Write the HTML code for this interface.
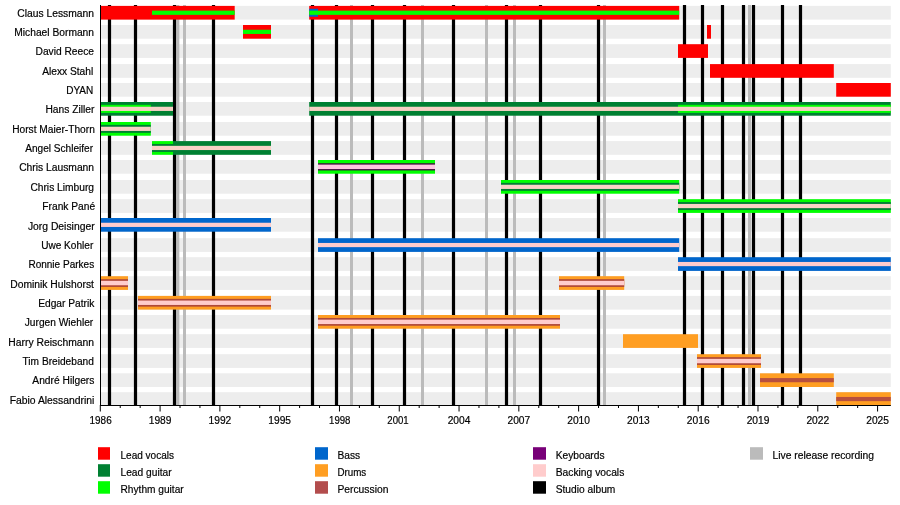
<!DOCTYPE html>
<html lang="en"><head><meta charset="utf-8"><title>Bonfire band members timeline</title>
<style>
html,body{margin:0;padding:0;background:#fff;}
body{width:900px;height:505px;overflow:hidden;}
svg{display:block;position:absolute;left:0;top:0;}
text{font-family:"Liberation Sans",sans-serif;font-size:11px;fill:#000;stroke:#000;stroke-width:0.2px;}
</style></head><body>
<svg width="900" height="505" viewBox="0 0 900 505" role="img" aria-label="Band members timeline">
<defs><filter id="soft" x="0" y="0" width="900" height="505" filterUnits="userSpaceOnUse"><feGaussianBlur stdDeviation="0.4"/></filter></defs>
<rect x="0" y="0" width="900" height="505" fill="#fff"/>
<g filter="url(#soft)">
<g fill="#ededed">
<rect x="101" y="5.9" width="789.8" height="13.7"/>
<rect x="101" y="25" width="789.8" height="13.7"/>
<rect x="101" y="44.2" width="789.8" height="13.7"/>
<rect x="101" y="64.1" width="789.8" height="13.7"/>
<rect x="101" y="83" width="789.8" height="13.7"/>
<rect x="101" y="102" width="789.8" height="13.7"/>
<rect x="101" y="122" width="789.8" height="13.7"/>
<rect x="101" y="141.1" width="789.8" height="13.7"/>
<rect x="101" y="160" width="789.8" height="13.7"/>
<rect x="101" y="180" width="789.8" height="13.7"/>
<rect x="101" y="199.2" width="789.8" height="13.7"/>
<rect x="101" y="218" width="789.8" height="13.7"/>
<rect x="101" y="238.2" width="789.8" height="13.7"/>
<rect x="101" y="257.2" width="789.8" height="13.7"/>
<rect x="101" y="276.2" width="789.8" height="13.7"/>
<rect x="101" y="295.9" width="789.8" height="13.7"/>
<rect x="101" y="315" width="789.8" height="13.7"/>
<rect x="101" y="334.2" width="789.8" height="13.7"/>
<rect x="101" y="354.2" width="789.8" height="13.7"/>
<rect x="101" y="373.3" width="789.8" height="13.7"/>
<rect x="101" y="392.2" width="789.8" height="13.7"/>
</g>
<g fill="#bbbbbb">
<rect x="176.3" y="5" width="3" height="400"/>
<rect x="183" y="5" width="3" height="400"/>
<rect x="350" y="5" width="3" height="400"/>
<rect x="421" y="5" width="3" height="400"/>
<rect x="485" y="5" width="3" height="400"/>
<rect x="513" y="5" width="3" height="400"/>
<rect x="603" y="5" width="3" height="400"/>
<rect x="748" y="5" width="3" height="400"/>
</g>
<g fill="#000">
<rect x="107.9" y="5" width="3.2" height="400"/>
<rect x="133.9" y="5" width="3.2" height="400"/>
<rect x="172.9" y="5" width="3.2" height="400"/>
<rect x="211.9" y="5" width="3.2" height="400"/>
<rect x="310.9" y="5" width="3.2" height="400"/>
<rect x="334.9" y="5" width="3.2" height="400"/>
<rect x="370.9" y="5" width="3.2" height="400"/>
<rect x="402.9" y="5" width="3.2" height="400"/>
<rect x="451.9" y="5" width="3.2" height="400"/>
<rect x="504.9" y="5" width="3.2" height="400"/>
<rect x="538.9" y="5" width="3.2" height="400"/>
<rect x="596.9" y="5" width="3.2" height="400"/>
<rect x="682.9" y="5" width="3.2" height="400"/>
<rect x="700.9" y="5" width="3.2" height="400"/>
<rect x="720.9" y="5" width="3.2" height="400"/>
<rect x="741.9" y="5" width="3.2" height="400"/>
<rect x="751.9" y="5" width="3.2" height="400"/>
<rect x="780.9" y="5" width="3.2" height="400"/>
<rect x="798.9" y="5" width="3.2" height="400"/>
</g>
<g>
<rect x="100.8" y="5.9" width="133.9" height="13.7" fill="#ff0000"/>
<rect x="152" y="10.65" width="82.7" height="4.2" fill="#00ff00"/>
<rect x="309.2" y="5.9" width="370" height="13.7" fill="#ff0000"/>
<rect x="309.2" y="8.75" width="8.8" height="8" fill="#0066cc"/>
<rect x="309.2" y="10.65" width="370" height="4.2" fill="#00ff00"/>
<rect x="243" y="25" width="28" height="13.7" fill="#ff0000"/>
<rect x="243" y="29.75" width="28" height="4.2" fill="#00ff00"/>
<rect x="707" y="25" width="4" height="13.7" fill="#ff0000"/>
<rect x="678" y="44.2" width="30" height="13.7" fill="#ff0000"/>
<rect x="710" y="64.1" width="123.8" height="13.7" fill="#ff0000"/>
<rect x="836.2" y="83" width="54.6" height="13.7" fill="#ff0000"/>
<rect x="100.8" y="102" width="72.2" height="13.7" fill="#008033"/>
<rect x="100.8" y="104.85" width="50" height="8" fill="#00ff00"/>
<rect x="100.8" y="106.75" width="72.2" height="4.2" fill="#f8d2c6"/>
<rect x="309.2" y="102" width="581.6" height="13.7" fill="#008033"/>
<rect x="678" y="104.85" width="212.8" height="8" fill="#00ff00"/>
<rect x="309.2" y="106.75" width="581.6" height="4.2" fill="#f8d2c6"/>
<rect x="100.8" y="122" width="50" height="13.7" fill="#00ff00"/>
<rect x="100.8" y="124.85" width="50" height="8" fill="#008033"/>
<rect x="100.8" y="126.75" width="50" height="4.2" fill="#f8d2c6"/>
<rect x="152" y="141.1" width="21" height="13.7" fill="#00ff00"/>
<rect x="173" y="141.1" width="98" height="13.7" fill="#008033"/>
<rect x="152" y="143.95" width="21" height="8" fill="#008033"/>
<rect x="152" y="145.85" width="119" height="4.2" fill="#f8d2c6"/>
<rect x="318" y="160" width="117" height="13.7" fill="#00ff00"/>
<rect x="318" y="163.25" width="117" height="7.2" fill="#3c0c3c"/>
<rect x="318" y="164.6" width="117" height="4.5" fill="#ffc6e2"/>
<rect x="501" y="180" width="178.2" height="13.7" fill="#00ff00"/>
<rect x="501" y="182.85" width="178.2" height="8" fill="#008033"/>
<rect x="501" y="184.75" width="178.2" height="4.2" fill="#f8d2c6"/>
<rect x="678" y="199.2" width="212.8" height="13.7" fill="#00ff00"/>
<rect x="678" y="202.05" width="212.8" height="8" fill="#008033"/>
<rect x="678" y="203.95" width="212.8" height="4.2" fill="#f8d2c6"/>
<rect x="100.8" y="218" width="170.2" height="13.7" fill="#0066cc"/>
<rect x="100.8" y="222.75" width="170.2" height="4.2" fill="#ffcccc"/>
<rect x="318" y="238.2" width="361.2" height="13.7" fill="#0066cc"/>
<rect x="318" y="242.95" width="361.2" height="4.2" fill="#ffcccc"/>
<rect x="678" y="257.2" width="212.8" height="13.7" fill="#0066cc"/>
<rect x="678" y="261.95" width="212.8" height="4.2" fill="#ffcccc"/>
<rect x="100.8" y="276.2" width="27.2" height="13.7" fill="#ff9e24"/>
<rect x="100.8" y="279.15" width="27.2" height="7.8" fill="#b04838"/>
<rect x="100.8" y="280.85" width="27.2" height="4.4" fill="#ffcccc"/>
<rect x="559" y="276.2" width="65.2" height="13.7" fill="#ff9e24"/>
<rect x="559" y="279.15" width="65.2" height="7.8" fill="#b04838"/>
<rect x="559" y="280.85" width="65.2" height="4.4" fill="#ffcccc"/>
<rect x="138" y="295.9" width="133" height="13.7" fill="#ff9e24"/>
<rect x="138" y="298.85" width="133" height="7.8" fill="#b04838"/>
<rect x="138" y="300.55" width="133" height="4.4" fill="#ffcccc"/>
<rect x="318" y="315" width="242" height="13.7" fill="#ff9e24"/>
<rect x="318" y="317.95" width="242" height="7.8" fill="#b04838"/>
<rect x="318" y="319.65" width="242" height="4.4" fill="#ffcccc"/>
<rect x="623" y="334.2" width="75" height="13.7" fill="#ff9e24"/>
<rect x="697" y="354.2" width="64" height="13.7" fill="#ff9e24"/>
<rect x="697" y="357.15" width="64" height="7.8" fill="#b04838"/>
<rect x="697" y="358.85" width="64" height="4.4" fill="#ffcccc"/>
<rect x="760" y="373.3" width="73.8" height="13.7" fill="#ff9e24"/>
<rect x="760" y="378.05" width="73.8" height="4.2" fill="#b8503c"/>
<rect x="836.2" y="392.2" width="54.6" height="13.7" fill="#ff9e24"/>
<rect x="836.2" y="396.95" width="54.6" height="4.2" fill="#b8503c"/>
</g>
<g fill="#000">
<rect x="100" y="5" width="1" height="401"/>
<rect x="100" y="405" width="790.8" height="1"/>
<rect x="99.8" y="405" width="1" height="6.5"/>
<rect x="119.73" y="405" width="1" height="3"/>
<rect x="139.66" y="405" width="1" height="3"/>
<rect x="159.59" y="405" width="1" height="6.5"/>
<rect x="179.52" y="405" width="1" height="3"/>
<rect x="199.45" y="405" width="1" height="3"/>
<rect x="219.38" y="405" width="1" height="6.5"/>
<rect x="239.31" y="405" width="1" height="3"/>
<rect x="259.24" y="405" width="1" height="3"/>
<rect x="279.17" y="405" width="1" height="6.5"/>
<rect x="299.1" y="405" width="1" height="3"/>
<rect x="319.03" y="405" width="1" height="3"/>
<rect x="338.96" y="405" width="1" height="6.5"/>
<rect x="358.89" y="405" width="1" height="3"/>
<rect x="378.82" y="405" width="1" height="3"/>
<rect x="398.75" y="405" width="1" height="6.5"/>
<rect x="418.68" y="405" width="1" height="3"/>
<rect x="438.61" y="405" width="1" height="3"/>
<rect x="458.54" y="405" width="1" height="6.5"/>
<rect x="478.47" y="405" width="1" height="3"/>
<rect x="498.4" y="405" width="1" height="3"/>
<rect x="518.33" y="405" width="1" height="6.5"/>
<rect x="538.26" y="405" width="1" height="3"/>
<rect x="558.19" y="405" width="1" height="3"/>
<rect x="578.12" y="405" width="1" height="6.5"/>
<rect x="598.05" y="405" width="1" height="3"/>
<rect x="617.98" y="405" width="1" height="3"/>
<rect x="637.91" y="405" width="1" height="6.5"/>
<rect x="657.84" y="405" width="1" height="3"/>
<rect x="677.77" y="405" width="1" height="3"/>
<rect x="697.7" y="405" width="1" height="6.5"/>
<rect x="717.63" y="405" width="1" height="3"/>
<rect x="737.56" y="405" width="1" height="3"/>
<rect x="757.49" y="405" width="1" height="6.5"/>
<rect x="777.42" y="405" width="1" height="3"/>
<rect x="797.35" y="405" width="1" height="3"/>
<rect x="817.28" y="405" width="1" height="6.5"/>
<rect x="837.21" y="405" width="1" height="3"/>
<rect x="857.14" y="405" width="1" height="3"/>
<rect x="877.07" y="405" width="1" height="6.5"/>
</g>
<g text-anchor="middle">
<text transform="translate(100.6 423.6) scale(0.9049 1)">1986</text>
<text transform="translate(160.09 423.6) scale(0.9300 1)">1989</text>
<text transform="translate(219.88 423.6) scale(0.9300 1)">1992</text>
<text transform="translate(279.67 423.6) scale(0.9300 1)">1995</text>
<text transform="translate(339.76 423.6) scale(0.8742 1)">1998</text>
<text transform="translate(397.95 423.6) scale(0.8719 1)">2001</text>
<text transform="translate(459.04 423.6) scale(0.9300 1)">2004</text>
<text transform="translate(518.83 423.6) scale(0.9300 1)">2007</text>
<text transform="translate(578.62 423.6) scale(0.9300 1)">2010</text>
<text transform="translate(638.41 423.6) scale(0.9300 1)">2013</text>
<text transform="translate(698.2 423.6) scale(0.9300 1)">2016</text>
<text transform="translate(757.99 423.6) scale(0.9300 1)">2019</text>
<text transform="translate(817.78 423.6) scale(0.9300 1)">2022</text>
<text transform="translate(877.57 423.6) scale(0.9300 1)">2025</text>
</g>
<g text-anchor="end">
<text transform="translate(94.04 17) scale(0.9381 1)">Claus Lessmann</text>
<text transform="translate(94.04 36) scale(0.9333 1)">Michael Bormann</text>
<text transform="translate(94.04 55) scale(0.9307 1)">David Reece</text>
<text transform="translate(93.27 75) scale(0.9307 1)">Alexx Stahl</text>
<text transform="translate(93.27 94) scale(0.9117 1)">DYAN</text>
<text transform="translate(94.38 113) scale(0.9328 1)">Hans Ziller</text>
<text transform="translate(94.82 133) scale(0.9276 1)">Horst Maier-Thorn</text>
<text transform="translate(93.04 152) scale(0.9176 1)">Angel Schleifer</text>
<text transform="translate(94.04 171) scale(0.9354 1)">Chris Lausmann</text>
<text transform="translate(94.04 191) scale(0.9314 1)">Chris Limburg</text>
<text transform="translate(95.16 210) scale(0.9289 1)">Frank Pané</text>
<text transform="translate(94.6 230) scale(0.9418 1)">Jorg Deisinger</text>
<text transform="translate(93.27 249) scale(0.9170 1)">Uwe Kohler</text>
<text transform="translate(94.16 268) scale(0.9121 1)">Ronnie Parkes</text>
<text transform="translate(93.93 288) scale(0.9381 1)">Dominik Hulshorst</text>
<text transform="translate(94.38 307) scale(0.9288 1)">Edgar Patrik</text>
<text transform="translate(93.27 326) scale(0.9277 1)">Jurgen Wiehler</text>
<text transform="translate(94.04 346) scale(0.9425 1)">Harry Reischmann</text>
<text transform="translate(93.82 365) scale(0.9236 1)">Tim Breideband</text>
<text transform="translate(94.38 384) scale(0.9320 1)">André Hilgers</text>
<text transform="translate(94.38 404) scale(0.9431 1)">Fabio Alessandrini</text>
</g>
<g>
<rect x="98" y="447.2" width="12" height="12.5" fill="#ff0000"/>
<text transform="translate(120.5 459) scale(0.9133 1)">Lead vocals</text>
<rect x="98" y="464.2" width="12" height="12.5" fill="#008033"/>
<text transform="translate(120.5 476) scale(0.9300 1)">Lead guitar</text>
<rect x="98" y="481.2" width="12" height="12.5" fill="#00ff00"/>
<text transform="translate(120.5 493) scale(0.9244 1)">Rhythm guitar</text>
<rect x="315" y="447.2" width="13" height="12.5" fill="#0066cc"/>
<text transform="translate(337.4 459) scale(0.9300 1)">Bass</text>
<rect x="315" y="464.2" width="13" height="12.5" fill="#ff9e24"/>
<text transform="translate(337.4 476) scale(0.8928 1)">Drums</text>
<rect x="315" y="481.2" width="13" height="12.5" fill="#b34d4d"/>
<text transform="translate(337.4 493) scale(0.9374 1)">Percussion</text>
<rect x="533" y="447.2" width="13" height="12.5" fill="#780078"/>
<text transform="translate(555.7 459) scale(0.9300 1)">Keyboards</text>
<rect x="533" y="464.2" width="13" height="12.5" fill="#ffcccc"/>
<text transform="translate(555.7 476) scale(0.9356 1)">Backing vocals</text>
<rect x="533" y="481.2" width="13" height="12.5" fill="#000000"/>
<text transform="translate(555.7 493) scale(0.9300 1)">Studio album</text>
<rect x="750" y="447.2" width="13" height="12.5" fill="#bbbbbb"/>
<text transform="translate(772.5 459) scale(0.9393 1)">Live release recording</text>
</g>
</g>
</svg>
</body></html>
